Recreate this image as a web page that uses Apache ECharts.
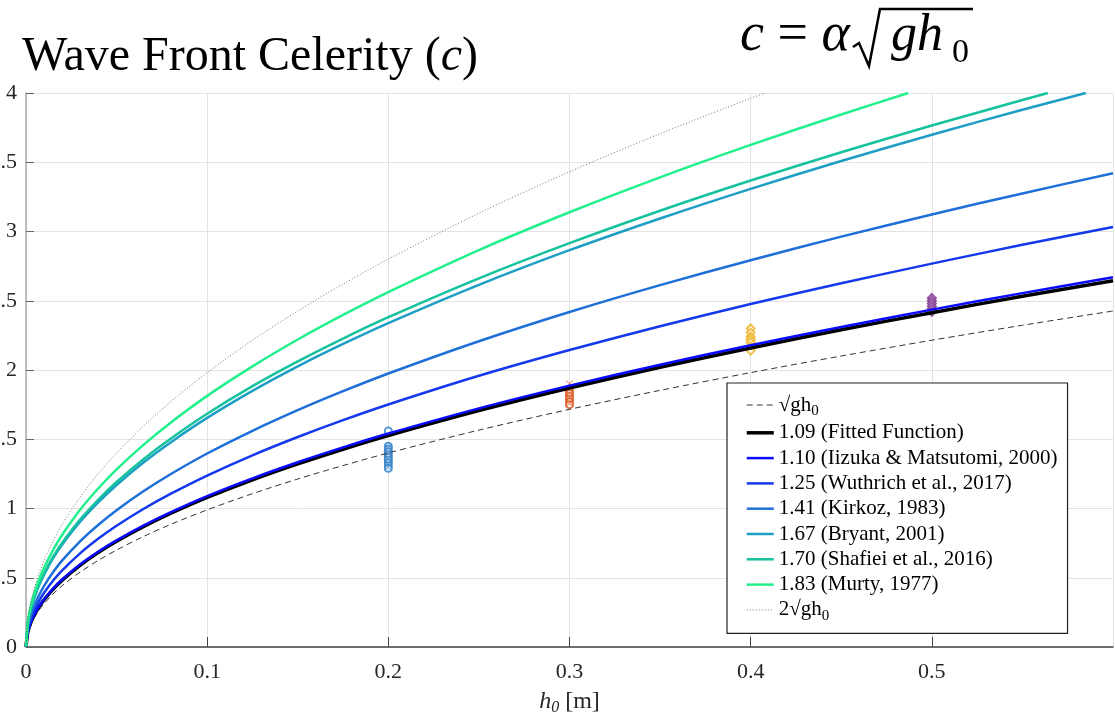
<!DOCTYPE html>
<html>
<head>
<meta charset="utf-8">
<title>Wave Front Celerity</title>
<script src="https://cdn.jsdelivr.net/npm/echarts@6/dist/echarts.min.js"></script>
<style>
    html, body { margin: 0; padding: 0; background: #fff; }
    #WaveChart { width: 1115px; height: 728px; }
</style>
</head>
<body>
<div id="WaveChart"></div>
<script>
// h0 sample points [m]
var hValues = [0, 0.001, 0.002, 0.004, 0.007, 0.01, 0.015, 0.02, 0.03, 0.04, 0.05, 0.065, 0.08,
               0.1, 0.125, 0.15, 0.175, 0.2, 0.25, 0.3, 0.35, 0.4, 0.45, 0.5, 0.55, 0.6];

// celerity [m/s]
var sqrtGh = [0, 0.099, 0.140, 0.198, 0.262, 0.313, 0.384, 0.443, 0.542, 0.626, 0.700, 0.799, 0.886,
              0.990, 1.107, 1.213, 1.310, 1.401, 1.566, 1.716, 1.853, 1.981, 2.101, 2.215, 2.323, 2.426];
var fitted = [0, 0.108, 0.153, 0.216, 0.286, 0.341, 0.418, 0.483, 0.591, 0.683, 0.763, 0.870, 0.966,
              1.080, 1.207, 1.322, 1.428, 1.527, 1.707, 1.870, 2.020, 2.159, 2.290, 2.414, 2.532, 2.644];
var iizuka = [0, 0.109, 0.154, 0.218, 0.288, 0.345, 0.422, 0.487, 0.597, 0.689, 0.770, 0.878, 0.974,
              1.090, 1.218, 1.334, 1.441, 1.541, 1.723, 1.887, 2.038, 2.179, 2.311, 2.436, 2.555, 2.669];
var wuthrich = [0, 0.124, 0.175, 0.248, 0.328, 0.392, 0.480, 0.554, 0.678, 0.783, 0.875, 0.998, 1.107,
                1.238, 1.384, 1.516, 1.638, 1.751, 1.958, 2.144, 2.316, 2.476, 2.626, 2.768, 2.904, 3.033];
var kirkoz = [0, 0.140, 0.198, 0.279, 0.369, 0.442, 0.541, 0.625, 0.765, 0.883, 0.988, 1.126, 1.249,
              1.397, 1.561, 1.710, 1.847, 1.975, 2.208, 2.419, 2.613, 2.793, 2.963, 3.123, 3.275, 3.421];
var bryant = [0, 0.165, 0.234, 0.331, 0.438, 0.523, 0.641, 0.740, 0.906, 1.046, 1.170, 1.334, 1.479,
              1.654, 1.849, 2.026, 2.188, 2.339, 2.615, 2.865, 3.094, 3.308, 3.509, 3.699, 3.879];
var shafiei = [0, 0.168, 0.238, 0.337, 0.445, 0.532, 0.652, 0.753, 0.922, 1.065, 1.191, 1.358, 1.506,
               1.684, 1.883, 2.062, 2.227, 2.381, 2.662, 2.916, 3.150, 3.368, 3.572, 3.765, 3.949];
var murty = [0, 0.181, 0.256, 0.363, 0.480, 0.573, 0.702, 0.811, 0.993, 1.146, 1.282, 1.461, 1.621,
             1.813, 2.026, 2.220, 2.398, 2.563, 2.866, 3.139, 3.391, 3.625, 3.845];
var twoSqrtGh = [0, 0.198, 0.280, 0.396, 0.524, 0.626, 0.767, 0.886, 1.085, 1.253, 1.401, 1.597, 1.772,
                 1.981, 2.215, 2.426, 2.620, 2.801, 3.132, 3.431, 3.706, 3.962];
// where the steep curves leave the top of the plot
var bryantEnd = [0.585, 4];
var shafieiEnd = [0.564, 4];
var murtyEnd = [0.487, 4];
var twoSqrtEnd = [0.408, 4];

// measured fronts
var blueCircles = [1.56, 1.45, 1.43, 1.41, 1.39, 1.37, 1.35, 1.33, 1.31, 1.29];
var blueCrosses = [1.44, 1.40, 1.36, 1.32, 1.30];
var redCircles = [1.85, 1.83, 1.81, 1.79, 1.77, 1.75];
var redCrosses = [1.90, 1.80, 1.76];
var yellowDiamonds = [2.30, 2.27, 2.24, 2.22, 2.20, 2.17, 2.14];
var purpleDiamonds = [2.52, 2.50, 2.48, 2.46, 2.44, 2.42];

var xTicks = { min: 0, max: 0.6, step: 0.1 };
var yTicks = { min: 0, max: 4, step: 0.5 };

var serif = 'Liberation Serif';

function toPairs(values, end) {
    var pts = values.map(function (v, i) { return [hValues[i], v]; });
    if (end) pts.push(end);
    return pts;
}
function atH(h, values) {
    return values.map(function (v) { return [h, v]; });
}

function curve(name, values, end, color, width, type) {
    return {
        name: name,
        type: 'line',
        data: toPairs(values, end),
        smooth: 0.3,
        showSymbol: false,
        symbol: 'none',
        lineStyle: { color: color, width: width, type: type || 'solid' },
        itemStyle: { color: color },
        z: 3
    };
}
function marks(values, h, symbol, color, size) {
    var style = symbol.indexOf('path://') === 0
        ? { color: 'none', borderColor: color, borderWidth: 1 }
        : { color: color, borderWidth: 1 };
    return {
        type: 'scatter',
        data: atH(h, values),
        symbol: symbol,
        symbolSize: size,
        itemStyle: style,
        z: 2
    };
}

var cross = 'path://M0,0L10,10M10,0L0,10';

function LoadCelerity() {
    var myChart = echarts.init(document.getElementById('WaveChart'));
    var option = {
        animation: false,
        backgroundColor: '#fff',
        grid: { left: 26, right: 2, top: 93, bottom: 81, containLabel: false, outerBoundsMode: 'none' },
        xAxis: {
            type: 'value',
            min: xTicks.min,
            max: xTicks.max,
            interval: xTicks.step,
            name: '{i|h}{s|0} [m]',
            nameLocation: 'middle',
            nameGap: 41,
            nameTextStyle: {
                fontFamily: serif, fontSize: 24, color: '#262626',
                rich: {
                    i: { fontFamily: serif, fontSize: 24, fontStyle: 'italic', color: '#262626' },
                    s: { fontFamily: serif, fontSize: 16, fontStyle: 'italic', color: '#262626', padding: [12, 0, 0, 0] }
                }
            },
            axisLine: { lineStyle: { color: '#444', width: 1.5 } },
            axisTick: { inside: true, length: 10, lineStyle: { color: '#444' } },
            axisLabel: {
                showMaxLabel: false,
                margin: 14,
                fontFamily: serif, fontSize: 22, color: '#262626'
            },
            splitLine: { lineStyle: { color: '#e3e3e3', width: 1 } }
        },
        yAxis: {
            type: 'value',
            min: yTicks.min,
            max: yTicks.max,
            interval: yTicks.step,
            axisLine: { show: true, lineStyle: { color: '#aaa', width: 1.5 } },
            axisTick: { show: true, inside: true, length: 8, lineStyle: { color: '#666' } },
            axisLabel: { margin: 9, fontFamily: serif, fontSize: 22, color: '#262626' },
            splitLine: { lineStyle: { color: '#e3e3e3', width: 1 } }
        },
        legend: {
            left: 727,
            top: 383,
            orient: 'vertical',
            selectedMode: false,
            backgroundColor: '#fff',
            borderColor: '#222',
            borderWidth: 1.2,
            padding: [11, 10, 10, 18],
            itemWidth: 27,
            itemHeight: 14,
            itemGap: 3.3,
            lineStyle: { width: 'inherit' },
            itemStyle: { opacity: 0 },
            data: ['√gh0', '1.09 (Fitted Function)', '1.10 (Iizuka & Matsutomi, 2000)',
                   '1.25 (Wuthrich et al., 2017)', '1.41 (Kirkoz, 1983)', '1.67 (Bryant, 2001)',
                   '1.70 (Shafiei et al., 2016)', '1.83 (Murty, 1977)', '2√gh0'],
            formatter: function (name) {
                return name.replace('gh0', 'gh{s|0}');
            },
            textStyle: {
                fontFamily: serif, fontSize: 21, color: '#000', lineHeight: 22,
                rich: {
                    s: { fontFamily: serif, fontSize: 15, color: '#000', padding: [12, 0, 0, 0] }
                }
            }
        },
        graphic: [
            {
                type: 'text', left: 22, top: 33,
                style: {
                    text: 'Wave Front Celerity ({i|c})',
                    font: '48px "Liberation Serif"', fill: '#000',
                    rich: { i: { fontFamily: serif, fontSize: 48, fontStyle: 'italic' } }
                }
            },
            {
                type: 'text', left: 740, top: 9,
                style: {
                    text: '{i|c} = {i|α}',
                    font: '54px "Liberation Serif"', fill: '#000',
                    rich: { i: { fontFamily: serif, fontSize: 54, fontStyle: 'italic' } }
                }
            },
            {
                type: 'polyline',
                shape: { points: [[853, 47], [859, 43], [869, 66], [880, 9], [973, 9]] },
                style: { stroke: '#000', lineWidth: 2.5, fill: null }
            },
            {
                type: 'text', left: 891, top: 10,
                style: { text: 'gh', font: 'italic 52px "Liberation Serif"', fill: '#000' }
            },
            {
                type: 'text', left: 952, top: 36,
                style: { text: '0', font: '34px "Liberation Serif"', fill: '#000' }
            }
        ],
        series: [
            marks(blueCircles, 0.2, 'emptyCircle', '#2f7ec8', 7),
            marks(blueCrosses, 0.2, cross, '#2f7ec8', 7),
            marks(redCircles, 0.3, 'emptyCircle', '#d95319', 7),
            marks(redCrosses, 0.3, cross, '#d95319', 7),
            marks(yellowDiamonds, 0.4, 'emptyDiamond', '#edb120', 8),
            marks(purpleDiamonds, 0.5, 'emptyDiamond', '#7e2f8e', 8),
            curve('√gh0', sqrtGh, null, '#333', 1, [6, 4]),
            curve('1.09 (Fitted Function)', fitted, null, '#000', 3.5),
            curve('1.10 (Iizuka & Matsutomi, 2000)', iizuka, null, '#0a0aff', 2.5),
            curve('1.25 (Wuthrich et al., 2017)', wuthrich, null, '#1438ee', 2.5),
            curve('1.41 (Kirkoz, 1983)', kirkoz, null, '#1e6fd8', 2.5),
            curve('1.67 (Bryant, 2001)', bryant, bryantEnd, '#1d9ec4', 2.5),
            curve('1.70 (Shafiei et al., 2016)', shafiei, shafieiEnd, '#14c29e', 2.5),
            curve('1.83 (Murty, 1977)', murty, murtyEnd, '#22f08c', 2.5),
            curve('2√gh0', twoSqrtGh, twoSqrtEnd, '#555', 0.8, [1, 2])
        ]
    };
    myChart.setOption(option);
}

LoadCelerity();
</script>
</body>
</html>
